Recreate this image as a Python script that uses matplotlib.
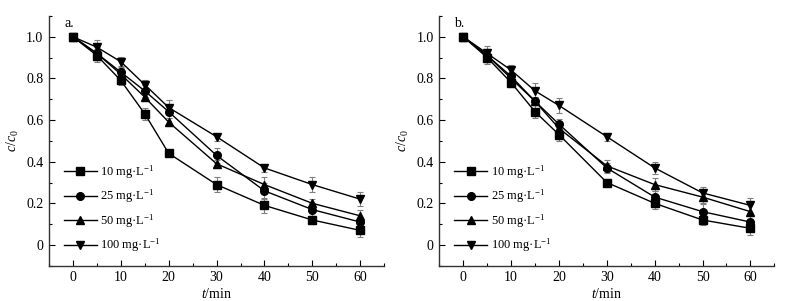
import matplotlib
matplotlib.use("Agg")
import matplotlib.pyplot as plt
from matplotlib.ticker import MultipleLocator, FixedLocator

plt.rcParams['font.family'] = ['Liberation Serif', 'DejaVu Serif']
plt.rcParams['mathtext.fontset'] = 'custom'
plt.rcParams['mathtext.rm'] = 'Liberation Serif'
plt.rcParams['mathtext.it'] = 'Liberation Serif:italic'
plt.rcParams['font.size'] = 8

t = [0, 5, 10, 15, 20, 30, 40, 50, 60]
labels = ['10 mg·L$^{-1}$', '25 mg·L$^{-1}$', '50 mg·L$^{-1}$', '100 mg·L$^{-1}$']
markers = ['s', 'o', '^', 'v']

a_10 = [1.0, 0.91, 0.79, 0.63, 0.44, 0.29, 0.19, 0.12, 0.07]
a_25 = [1.0, 0.92, 0.83, 0.74, 0.64, 0.43, 0.26, 0.17, 0.11]
a_50 = [1.0, 0.92, 0.82, 0.71, 0.59, 0.39, 0.29, 0.20, 0.14]
a_100 = [1.0, 0.95, 0.88, 0.77, 0.66, 0.52, 0.37, 0.29, 0.22]
a_10_err = [0.01, 0.03, 0.02, 0.03, 0.015, 0.035, 0.035, 0.02, 0.03]
a_25_err = [0.01, 0.03, 0.03, 0.03, 0.03, 0.035, 0.04, 0.03, 0.02]
a_50_err = [0.01, 0.03, 0.03, 0.02, 0.02, 0.02, 0.035, 0.02, 0.03]
a_100_err = [0.01, 0.035, 0.025, 0.02, 0.035, 0.02, 0.02, 0.035, 0.035]

b_10 = [1.0, 0.90, 0.78, 0.64, 0.53, 0.30, 0.20, 0.12, 0.08]
b_25 = [1.0, 0.91, 0.81, 0.69, 0.58, 0.37, 0.23, 0.16, 0.11]
b_50 = [1.0, 0.91, 0.80, 0.69, 0.56, 0.38, 0.29, 0.23, 0.16]
b_100 = [1.0, 0.92, 0.84, 0.74, 0.67, 0.52, 0.37, 0.25, 0.19]
b_10_err = [0.01, 0.03, 0.02, 0.03, 0.03, 0.015, 0.025, 0.025, 0.03]
b_25_err = [0.01, 0.03, 0.02, 0.02, 0.025, 0.025, 0.03, 0.035, 0.03]
b_50_err = [0.01, 0.03, 0.02, 0.02, 0.02, 0.03, 0.03, 0.03, 0.035]
b_100_err = [0.01, 0.035, 0.025, 0.04, 0.035, 0.02, 0.03, 0.03, 0.035]

panels = [
    ('a.', [a_10, a_25, a_50, a_100], [a_10_err, a_25_err, a_50_err, a_100_err]),
    ('b.', [b_10, b_25, b_50, b_100], [b_10_err, b_25_err, b_50_err, b_100_err]),
]

fig = plt.figure(figsize=(7.92, 3.01), dpi=100)
axes_pos = [[0.0619, 0.117, 0.4231, 0.830], [0.5547, 0.117, 0.4230, 0.830]]

for pos, (tag, series, errs) in zip(axes_pos, panels):
    ax = fig.add_axes(pos)
    handles = []
    for ys, es, m, lab in zip(series, errs, markers, labels):
        ax.errorbar(t, ys, yerr=es, fmt='none', ecolor='#7f7f7f', elinewidth=0.8,
                    capsize=2.5, capthick=0.8, zorder=2)
        h, = ax.plot(t, ys, color='black', lw=1.0, marker=m, ms=5.5,
                     markerfacecolor='black', markeredgecolor='black', zorder=3, label=lab)
        handles.append(h)
    ax.set_xlim(-5, 65)
    ax.set_ylim(-0.1, 1.1)
    ax.xaxis.set_major_locator(FixedLocator([0, 10, 20, 30, 40, 50, 60]))
    ax.xaxis.set_minor_locator(MultipleLocator(5))
    ax.yaxis.set_major_locator(FixedLocator([0, 0.2, 0.4, 0.6, 0.8, 1.0]))
    ax.yaxis.set_minor_locator(MultipleLocator(0.1))
    ax.set_yticklabels(['0', '0.2', '0.4', '0.6', '0.8', '1.0'])
    for s in ['top', 'right']:
        ax.spines[s].set_visible(False)
    for s in ['left', 'bottom']:
        ax.spines[s].set_linewidth(1.0)
        ax.spines[s].set_color('#333333')
    ax.tick_params(which='major', direction='in', length=4, width=0.8, labelsize=10, pad=4)
    ax.tick_params(which='minor', direction='in', length=2.5, width=0.8)
    ax.set_xlabel('$t$/min', fontsize=10, labelpad=2)
    ax.set_ylabel('$c$/$c_0$', fontsize=10, labelpad=4)
    ax.text(0.045, 0.995, tag, transform=ax.transAxes, fontsize=10, va='top', ha='left')
    ax.legend(handles=handles, loc='upper left', bbox_to_anchor=(0.045, 0.41), frameon=False,
              fontsize=9, handlelength=2.6, handletextpad=0.3, labelspacing=0.55,
              borderaxespad=0, borderpad=0)

fig.savefig('out.png', dpi=100)
